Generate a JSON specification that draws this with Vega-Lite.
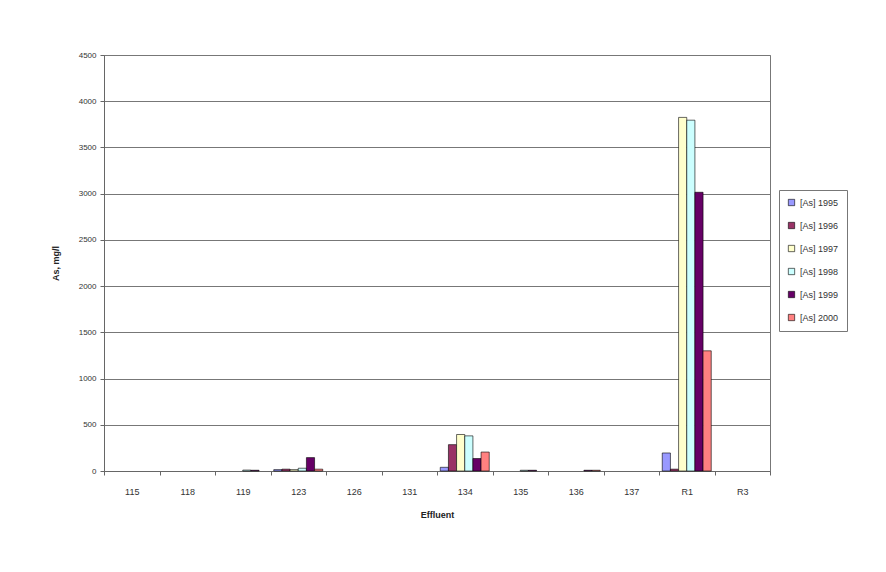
{
  "$schema": "https://vega.github.io/schema/vega-lite/v6.json",
  "width": 666,
  "height": 416,
  "autosize": "none",
  "padding": {"left": 104, "top": 55, "right": 116, "bottom": 101},
  "background": "white",
  "data": {
    "values": [
      {"effluent": "115", "series": "[As] 1995", "as": 0},
      {"effluent": "115", "series": "[As] 1996", "as": 0},
      {"effluent": "115", "series": "[As] 1997", "as": 0},
      {"effluent": "115", "series": "[As] 1998", "as": 0},
      {"effluent": "115", "series": "[As] 1999", "as": 0},
      {"effluent": "115", "series": "[As] 2000", "as": 0},
      {"effluent": "118", "series": "[As] 1995", "as": 0},
      {"effluent": "118", "series": "[As] 1996", "as": 0},
      {"effluent": "118", "series": "[As] 1997", "as": 0},
      {"effluent": "118", "series": "[As] 1998", "as": 0},
      {"effluent": "118", "series": "[As] 1999", "as": 0},
      {"effluent": "118", "series": "[As] 2000", "as": 0},
      {"effluent": "119", "series": "[As] 1995", "as": 0},
      {"effluent": "119", "series": "[As] 1996", "as": 0},
      {"effluent": "119", "series": "[As] 1997", "as": 0},
      {"effluent": "119", "series": "[As] 1998", "as": 10},
      {"effluent": "119", "series": "[As] 1999", "as": 8},
      {"effluent": "119", "series": "[As] 2000", "as": 0},
      {"effluent": "123", "series": "[As] 1995", "as": 15},
      {"effluent": "123", "series": "[As] 1996", "as": 20},
      {"effluent": "123", "series": "[As] 1997", "as": 15},
      {"effluent": "123", "series": "[As] 1998", "as": 30},
      {"effluent": "123", "series": "[As] 1999", "as": 145},
      {"effluent": "123", "series": "[As] 2000", "as": 20},
      {"effluent": "126", "series": "[As] 1995", "as": 0},
      {"effluent": "126", "series": "[As] 1996", "as": 0},
      {"effluent": "126", "series": "[As] 1997", "as": 0},
      {"effluent": "126", "series": "[As] 1998", "as": 0},
      {"effluent": "126", "series": "[As] 1999", "as": 0},
      {"effluent": "126", "series": "[As] 2000", "as": 0},
      {"effluent": "131", "series": "[As] 1995", "as": 0},
      {"effluent": "131", "series": "[As] 1996", "as": 0},
      {"effluent": "131", "series": "[As] 1997", "as": 0},
      {"effluent": "131", "series": "[As] 1998", "as": 0},
      {"effluent": "131", "series": "[As] 1999", "as": 0},
      {"effluent": "131", "series": "[As] 2000", "as": 0},
      {"effluent": "134", "series": "[As] 1995", "as": 40},
      {"effluent": "134", "series": "[As] 1996", "as": 285},
      {"effluent": "134", "series": "[As] 1997", "as": 395},
      {"effluent": "134", "series": "[As] 1998", "as": 380},
      {"effluent": "134", "series": "[As] 1999", "as": 135},
      {"effluent": "134", "series": "[As] 2000", "as": 205},
      {"effluent": "135", "series": "[As] 1995", "as": 0},
      {"effluent": "135", "series": "[As] 1996", "as": 0},
      {"effluent": "135", "series": "[As] 1997", "as": 0},
      {"effluent": "135", "series": "[As] 1998", "as": 8},
      {"effluent": "135", "series": "[As] 1999", "as": 8},
      {"effluent": "135", "series": "[As] 2000", "as": 0},
      {"effluent": "136", "series": "[As] 1995", "as": 0},
      {"effluent": "136", "series": "[As] 1996", "as": 0},
      {"effluent": "136", "series": "[As] 1997", "as": 0},
      {"effluent": "136", "series": "[As] 1998", "as": 0},
      {"effluent": "136", "series": "[As] 1999", "as": 8},
      {"effluent": "136", "series": "[As] 2000", "as": 8},
      {"effluent": "137", "series": "[As] 1995", "as": 0},
      {"effluent": "137", "series": "[As] 1996", "as": 0},
      {"effluent": "137", "series": "[As] 1997", "as": 0},
      {"effluent": "137", "series": "[As] 1998", "as": 0},
      {"effluent": "137", "series": "[As] 1999", "as": 0},
      {"effluent": "137", "series": "[As] 2000", "as": 0},
      {"effluent": "R1", "series": "[As] 1995", "as": 195},
      {"effluent": "R1", "series": "[As] 1996", "as": 20},
      {"effluent": "R1", "series": "[As] 1997", "as": 3825},
      {"effluent": "R1", "series": "[As] 1998", "as": 3795},
      {"effluent": "R1", "series": "[As] 1999", "as": 3015},
      {"effluent": "R1", "series": "[As] 2000", "as": 1300},
      {"effluent": "R3", "series": "[As] 1995", "as": 0},
      {"effluent": "R3", "series": "[As] 1996", "as": 0},
      {"effluent": "R3", "series": "[As] 1997", "as": 0},
      {"effluent": "R3", "series": "[As] 1998", "as": 0},
      {"effluent": "R3", "series": "[As] 1999", "as": 0},
      {"effluent": "R3", "series": "[As] 2000", "as": 0}
    ]
  },
  "transform": [{"filter": "datum.as > 0"}],
  "mark": {"type": "bar", "stroke": "#000000", "strokeWidth": 0.6},
  "encoding": {
    "x": {
      "field": "effluent",
      "type": "nominal",
      "sort": ["115", "118", "119", "123", "126", "131", "134", "135", "136", "137", "R1", "R3"],
      "scale": {
        "domain": ["115", "118", "119", "123", "126", "131", "134", "135", "136", "137", "R1", "R3"],
        "paddingInner": 0,
        "paddingOuter": 0
      },
      "axis": {
        "title": "Effluent",
        "titleFont": "Liberation Sans",
        "titleFontSize": 9,
        "titleFontWeight": "bold",
        "titleColor": "#222222",
        "titlePadding": 14,
        "labelAngle": 0,
        "labelFont": "Liberation Sans",
        "labelFontSize": 9,
        "labelColor": "#333333",
        "labelPadding": 12,
        "tickBand": "extent",
        "tickSize": 4,
        "tickColor": "#666666",
        "domainColor": "#666666",
        "grid": false
      }
    },
    "xOffset": {
      "field": "series",
      "type": "nominal",
      "scale": {
        "domain": ["[As] 1995", "[As] 1996", "[As] 1997", "[As] 1998", "[As] 1999", "[As] 2000"],
        "paddingInner": 0,
        "paddingOuter": 0.4
      }
    },
    "y": {
      "field": "as",
      "type": "quantitative",
      "scale": {"domain": [0, 4500], "nice": false},
      "axis": {
        "title": "As, mg/l",
        "titleFont": "Liberation Sans",
        "titleFontSize": 9,
        "titleFontWeight": "bold",
        "titleColor": "#222222",
        "titlePadding": 18,
        "values": [0, 500, 1000, 1500, 2000, 2500, 3000, 3500, 4000, 4500],
        "format": "d",
        "labelFont": "Liberation Sans",
        "labelFontSize": 8,
        "labelColor": "#333333",
        "labelPadding": 4,
        "tickSize": 4,
        "tickColor": "#666666",
        "domainColor": "#666666",
        "gridColor": "#777777",
        "gridWidth": 1
      }
    },
    "color": {
      "field": "series",
      "type": "nominal",
      "scale": {
        "domain": ["[As] 1995", "[As] 1996", "[As] 1997", "[As] 1998", "[As] 1999", "[As] 2000"],
        "range": ["#9999FF", "#993366", "#FFFFCC", "#CCFFFF", "#660066", "#FF8080"]
      },
      "legend": {
        "title": null,
        "orient": "none",
        "legendX": 675,
        "legendY": 135,
        "strokeColor": "#777777",
        "padding": 8,
        "rowPadding": 13,
        "symbolType": "square",
        "symbolSize": 40,
        "symbolStrokeColor": "#000000",
        "symbolStrokeWidth": 0.6,
        "labelFont": "Liberation Sans",
        "labelFontSize": 9,
        "labelColor": "#333333",
        "labelOffset": 4
      }
    }
  },
  "config": {
    "view": {"stroke": "#777777", "strokeWidth": 1}
  }
}
